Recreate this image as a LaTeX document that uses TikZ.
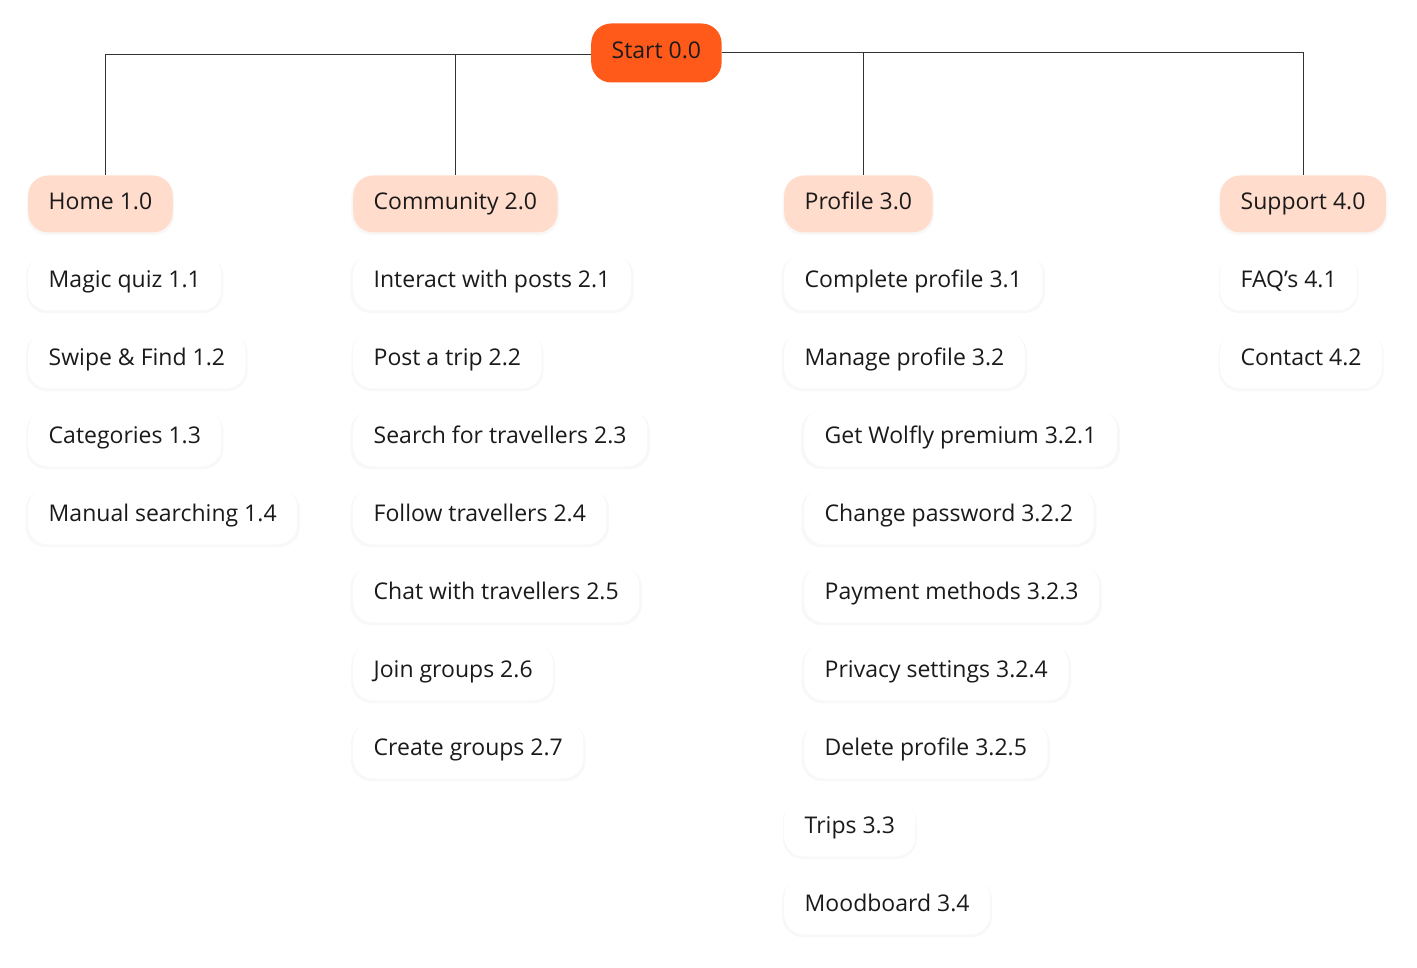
\documentclass[tikz,border=0pt]{standalone}
\usepackage{fontspec}
\setmainfont{Open Sans}
\usetikzlibrary{shadows}
\definecolor{org}{HTML}{FF5A1A}
\definecolor{peach}{HTML}{FFDCCB}
\definecolor{txt}{HTML}{1A1A1A}
\tikzset{
  base/.style={anchor=west,rounded corners=20pt,minimum height=57pt,inner xsep=20.5pt,text height=16pt,text depth=5pt,font=\fontsize{23pt}{26pt}\selectfont,text=txt},
  shad/.style={drop shadow={opacity=0.05,shadow xshift=0pt,shadow yshift=-2pt,shadow scale=1.02}},
  leaf/.style={base,fill=white,shad},
  cat/.style={base,fill=peach,shad},
  root/.style={base,fill=org,minimum height=59pt},
  wire/.style={draw=black!80,line width=0.9pt}
}
\begin{document}
\begin{tikzpicture}[x=1pt,y=-1pt]
\useasboundingbox[fill=white] (0,0) rectangle (1417,968);
\node[root] (s) at (591,53) {Start 0.0};
\node[cat] (h) at (28,204) {Home 1.0};
\node[cat] (c) at (353,204) {Community 2.0};
\node[cat] (p) at (784,204) {Profile 3.0};
\node[cat] (u) at (1220,204) {Support 4.0};
\node[leaf] (h1) at (28,282) {Magic quiz 1.1};
\node[leaf] (h2) at (28,360) {Swipe \& Find 1.2};
\node[leaf] (h3) at (28,438) {Categories 1.3};
\node[leaf] (h4) at (28,516) {Manual searching 1.4};
\node[leaf] (c1) at (353,282) {Interact with posts 2.1};
\node[leaf] (c2) at (353,360) {Post a trip 2.2};
\node[leaf] (c3) at (353,438) {Search for travellers 2.3};
\node[leaf] (c4) at (353,516) {Follow travellers 2.4};
\node[leaf] (c5) at (353,594) {Chat with travellers 2.5};
\node[leaf] (c6) at (353,672) {Join groups 2.6};
\node[leaf] (c7) at (353,750) {Create groups 2.7};
\node[leaf] (p1) at (784,282) {Complete profile 3.1};
\node[leaf] (p2) at (784,360) {Manage profile 3.2};
\node[leaf] (p21) at (804,438) {Get Wolfly premium 3.2.1};
\node[leaf] (p22) at (804,516) {Change password 3.2.2};
\node[leaf] (p23) at (804,594) {Payment methods 3.2.3};
\node[leaf] (p24) at (804,672) {Privacy settings 3.2.4};
\node[leaf] (p25) at (804,750) {Delete profile 3.2.5};
\node[leaf] (p3) at (784,828) {Trips 3.3};
\node[leaf] (p4) at (784,906) {Moodboard 3.4};
\node[leaf] (u1) at (1220,282) {FAQ’s 4.1};
\node[leaf] (u2) at (1220,360) {Contact 4.2};
\coordinate (cl) at (455,54);
\coordinate (pr) at (863,52);
\draw[wire] (s.west |- 0,54) -| (h.north -| 105,0);
\draw[wire] (cl) -- (cl |- c.north);
\draw[wire] (s.east |- 0,52) -| (u.north -| 1303,0);
\draw[wire] (pr) -- (pr |- p.north);
\end{tikzpicture}
\end{document}
